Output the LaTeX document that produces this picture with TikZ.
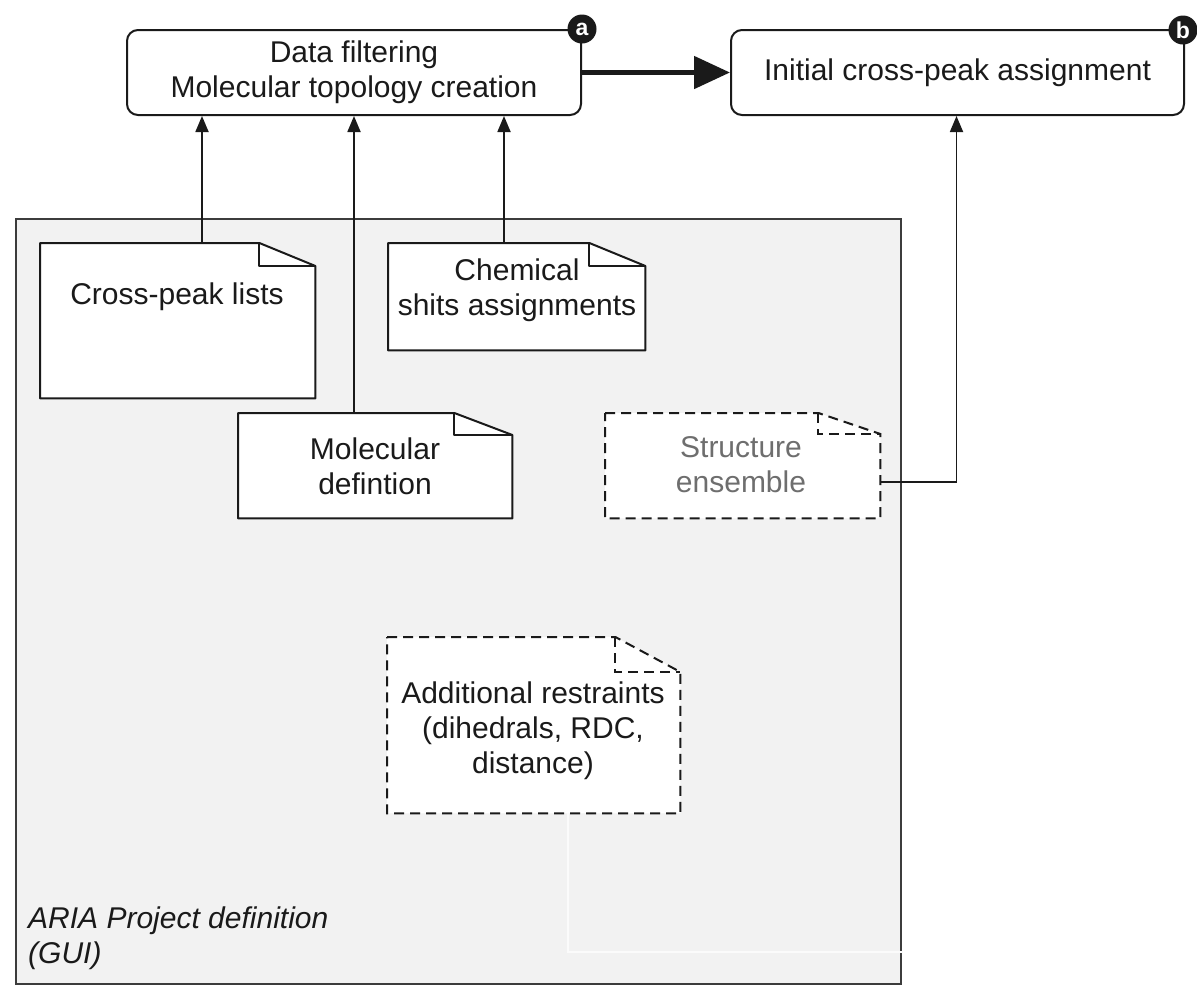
\documentclass[tikz,border=0pt]{standalone}
\usepackage{fontspec}
\setmainfont{Liberation Sans}
\usetikzlibrary{arrows.meta,calc}

\definecolor{framefill}{HTML}{F2F2F2}
\definecolor{ink}{HTML}{1A1A1A}
\definecolor{faded}{HTML}{6E6E6E}
\definecolor{ghost}{HTML}{FBFBFB}

% dog-eared document outline around a node: #1 node, #2 style, #3 fold width, #4 fold height
\newcommand\foldnote[4]{%
  \path[#2] (#1.north west) -- ($(#1.north east)+(-#3,0)$) -- ($(#1.north east)+(0,#4)$)
        -- (#1.south east) -- (#1.south west) -- cycle;
  \path[#2, fill=none] ($(#1.north east)+(-#3,0)$) |- ($(#1.north east)+(0,#4)$);
}

\begin{document}
\begin{tikzpicture}[x=1pt, y=-1pt,
  every node/.style={font=\fontsize{30}{35}\selectfont, text=ink, align=center, inner sep=0pt},
  stepbox/.style={draw=ink, line width=2pt, rounded corners=11pt, fill=white, anchor=north west},
  area/.style={draw=none, anchor=north west},
  solidnote/.style={draw=ink, fill=white, line width=2pt, line join=round},
  dashnote/.style={draw=ink, fill=white, line width=2pt, dash pattern=on 10pt off 6pt},
  arr/.style={draw=ink, line width=1.8pt, -{Triangle[length=16pt,width=13pt]}},
  bigarr/.style={draw=ink, line width=5pt, -{Triangle[length=36pt,width=32pt]}},
  badge/.style={circle, fill=ink, text=white, minimum size=29pt, font=\fontsize{23}{23}\selectfont\bfseries},
  ghostline/.style={draw=ghost, line width=1.5pt},
]
\useasboundingbox (0,0) rectangle (1197,986);

% processing steps
\node[stepbox, minimum width=454pt, minimum height=85pt] (a) at (126,29)
  {Data filtering\\Molecular topology creation};
\node[stepbox, minimum width=453pt, minimum height=85pt] (b) at (730,29)
  {Initial cross-peak assignment};
\node[badge] (bada) at (a.north east) {a};
\node[badge] (badb) at ($(b.north east)+(-2,1)$) {b};
\draw[bigarr] (a.east) -- (b.west);

% project definition frame
\node[draw=ink!85, fill=framefill, line width=2.2pt, anchor=north west,
      minimum width=885pt, minimum height=765pt] (gui) at (15,218) {};
\node[anchor=north west, align=left, font=\fontsize{30}{35}\selectfont\itshape]
  (guilabel) at (28,907) {ARIA Project definition\\(GUI)};

% input documents
\node[area, minimum width=275pt, minimum height=155pt] (cpl) at (40,243) {};
\node[area, minimum width=257pt, minimum height=107pt] (chem) at (388,243) {};
\node[area, minimum width=274pt, minimum height=105pt] (mol) at (238,413) {};
\node[area, minimum width=275pt, minimum height=105pt] (se) at (605,413) {};
\node[area, minimum width=293pt, minimum height=176pt] (restr) at (387,637) {};

\foldnote{cpl}{solidnote}{56}{23}
\foldnote{chem}{solidnote}{56}{23}
\foldnote{mol}{solidnote}{58}{22}
\foldnote{se}{dashnote}{62}{21}
\foldnote{restr}{dashnote}{65}{35}

\node (cpltxt) at (177,297) {Cross-peak lists};
\node (chemtxt) at (517,290) {Chemical\\shits assignments};
\node (moltxt) at (375,466) {Molecular\\defintion};
\node[text=faded] (setxt) at (741,465) {Structure\\ensemble};
\node (restrtxt) at (533,731) {Additional restraints\\(dihedrals, RDC,\\distance)};

% connectors
\coordinate (aL) at ($(a.south)+(-152,0)$);
\coordinate (aR) at ($(a.south)+(150,0)$);
\draw[arr] (cpl.north -| aL) -- (aL);
\draw[arr] (mol.north -| a.south) -- (a.south);
\draw[arr] (chem.north -| aR) -- (aR);
\draw[arr] ($(se.east)+(0,16)$) -| ($(b.south)+(-1,0)$);

\coordinate (fx) at (568,952);
\coordinate (fend) at (903,952);
\draw[ghostline] (restr.south -| fx) |- (fend);
\end{tikzpicture}
\end{document}
